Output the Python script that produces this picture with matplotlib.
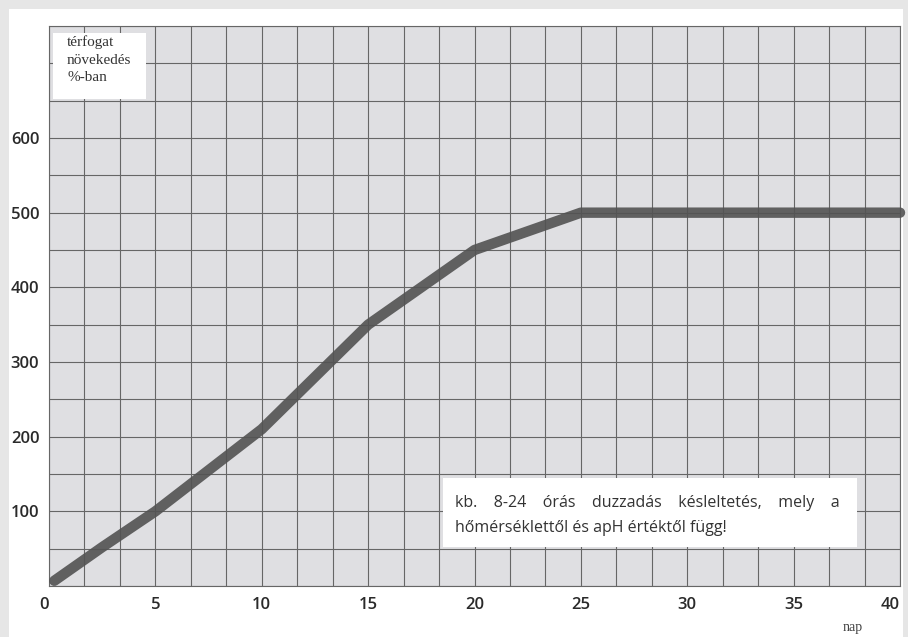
import matplotlib
matplotlib.use("Agg")
import matplotlib.pyplot as plt
from matplotlib.patches import Rectangle
from matplotlib.ticker import MultipleLocator, FixedLocator

days = [0.25, 2.5, 5, 7.5, 10, 12.5, 15, 17.5, 20, 25, 40]
volume = [7, 52, 100, 155, 210, 280, 350, 400, 450, 500, 500]

x_ticks = [0, 5, 10, 15, 20, 25, 30, 35, 40]
x_labels = ["0", "5", "10", "15", "20", "25", "30", "35", "40"]
y_ticks = [100, 200, 300, 400, 500, 600]
y_labels = ["100", "200", "300", "400", "500", "600"]

ylabel_text = "térfogat\nnövekedés\n%-ban"
xlabel_text = "nap"
note_text = ("kb.    8-24    órás    duzzadás    késleltetés,    mely    a\n"
             "hőmérséklettől és apH értéktől függ!")

W, H = 908, 637
fig = plt.figure(figsize=(W / 100, H / 100), dpi=100)
fig.patch.set_facecolor("#e6e6e6")
fig.patches.append(Rectangle((9 / W, 0), (903 - 9) / W, (H - 9) / H,
                             transform=fig.transFigure, facecolor="white",
                             edgecolor="none", zorder=-10))

left, right = 49 / W, 900 / W
bottom, top = 1 - 586 / H, 1 - 26 / H
ax = fig.add_axes([left, bottom, right - left, top - bottom])
ax.set_zorder(1)
ax.set_facecolor("#dfdfe2")
ax.set_xlim(0, 40)
ax.set_ylim(0, 750)

ax.xaxis.set_major_locator(FixedLocator(x_ticks))
ax.set_xticklabels(x_labels, family="Open Sans", fontweight="semibold")
ax.yaxis.set_major_locator(FixedLocator(y_ticks))
ax.set_yticklabels(y_labels, family="Open Sans", fontweight="semibold")
ax.xaxis.set_minor_locator(MultipleLocator(5 / 3))
ax.yaxis.set_minor_locator(MultipleLocator(50))
ax.grid(True, which="both", color="#666666", linewidth=0.8)
ax.set_axisbelow(True)
ax.tick_params(which="both", length=0)
ax.tick_params(axis="y", pad=7, labelsize=12, labelcolor="#2a2a2a")
ax.tick_params(axis="x", pad=8, labelsize=12, labelcolor="#2a2a2a")
xl = ax.get_xticklabels()
xl[0].set_ha("right")
xl[-1].set_ha("right")
for s in ax.spines.values():
    s.set_color("#666666")
    s.set_linewidth(0.8)

ax.plot(days, volume, color="#525252", alpha=0.9, linewidth=7.5,
        solid_capstyle="round", solid_joinstyle="round", zorder=3, clip_on=False)

# top-left label box
ax.add_patch(Rectangle((0.19, 652), 4.37, 89, facecolor="white", edgecolor="none", zorder=4))
ax.text(0.85, 737, ylabel_text, fontsize=11, family="Liberation Serif", color="#333333",
        va="top", ha="left", linespacing=1.45, zorder=5)

# note box
ax.add_patch(Rectangle((18.5, 52), 19.5, 92, facecolor="white", edgecolor="none", zorder=4))
ax.text(19.1, 122, note_text, fontsize=11.5, family="Open Sans", color="#333333",
        va="top", ha="left", linespacing=1.75, zorder=5)

fig.text(853 / W, 1 - 628 / H, xlabel_text, fontsize=10, family="Liberation Serif",
         color="#444444", ha="center", va="center")

fig.savefig("out.png", dpi=100, facecolor=fig.get_facecolor())
